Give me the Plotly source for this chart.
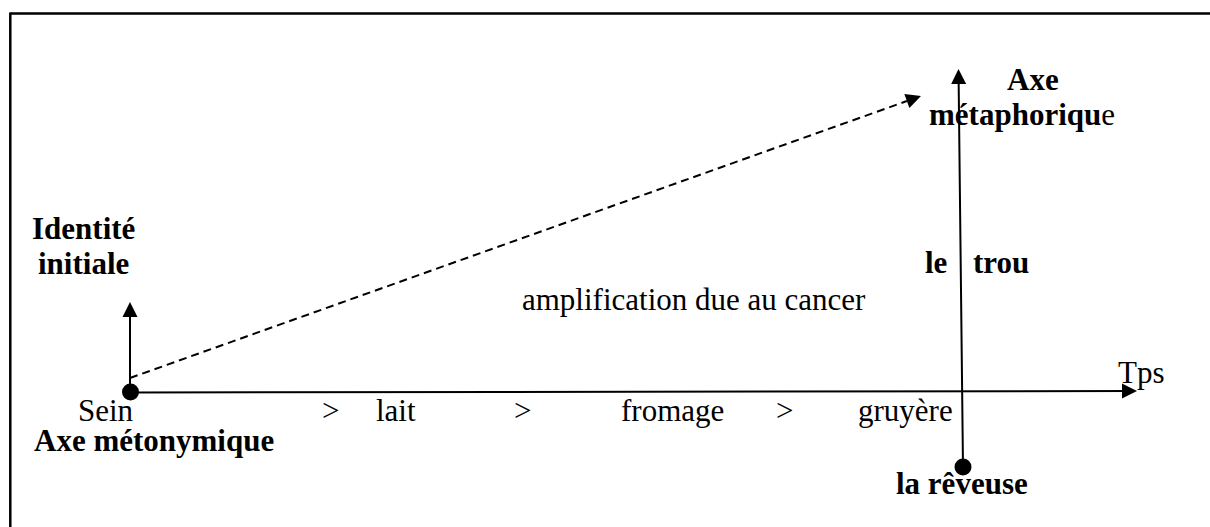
import math
import plotly.graph_objects as go

# ---- diagram data (diagram units: x to the right, y downward) ----
# chain along the metonymic (time) axis
chain_labels = ["Sein", ">", "lait", ">", "fromage", ">", "gruyère"]
chain_x = [106, 330, 396, 522, 672, 784, 905]
chain_y = [421, 421, 421, 421, 421, 421, 421]

# bold labels
bold_labels = ["Identité", "initiale", "Axe métonymique", "le", "trou",
               "Axe", "<b>métaphoriqu</b>e", "la rêveuse"]
bold_x = [83.5, 83, 154, 936, 1001, 1033, 1022, 962]
bold_y = [239, 274, 451, 273, 273, 90, 125, 494]

# regular labels
plain_labels = ["amplification due au cancer", "Tps"]
plain_x = [694, 1141]
plain_y = [310, 383]

# axes / arrows: start and end (tip) points
time_axis_x = [130, 1137]
time_axis_y = [392.5, 391]
identity_x = [130, 130]
identity_y = [392, 302]
metaphor_x = [963, 958.5]
metaphor_y = [467, 69]
amplif_x = [130, 921]
amplif_y = [378, 96]

# endpoints marked by dots
dot_x = [130.5, 963]
dot_y = [392, 467]

# frame
frame_left = 10.3
frame_top = 13.6

W, H = 1210, 527
FONT = "'Liberation Serif', 'Times New Roman', Times, serif"
FS = 31

fig = go.Figure()

# dashed amplification line (ends just under its arrowhead)
dx = amplif_x[1] - amplif_x[0]
dy = amplif_y[1] - amplif_y[0]
L = math.hypot(dx, dy)
ux, uy = dx / L, dy / L
head_len = 15
tail_x = amplif_x[1] - ux * head_len
tail_y = amplif_y[1] - uy * head_len
fig.add_trace(go.Scatter(
    x=[amplif_x[0], tail_x], y=[amplif_y[0], tail_y], mode="lines",
    line=dict(color="black", width=2, dash="8px,5px"),
    hoverinfo="skip", showlegend=False))

arrow_common = dict(xref="x", yref="y", axref="x", ayref="y", text="",
                    showarrow=True, arrowhead=2, arrowsize=1.5,
                    arrowwidth=2, arrowcolor="black", standoff=0,
                    startstandoff=0)

annotations = []
for xs, ys in [(time_axis_x, time_axis_y), (identity_x, identity_y),
               (metaphor_x, metaphor_y)]:
    annotations.append(dict(x=xs[1], y=ys[1], ax=xs[0], ay=ys[0], **arrow_common))
annotations.append(dict(x=amplif_x[1], y=amplif_y[1], ax=tail_x, ay=tail_y,
                        **arrow_common))

# dots
fig.add_trace(go.Scatter(
    x=dot_x, y=dot_y, mode="markers",
    marker=dict(symbol="circle", size=17, color="black"),
    hoverinfo="skip", showlegend=False))

# text: baseline -> box middle offset
off = 0.34 * FS
def add_text(t, x, y):
    annotations.append(dict(x=x, y=y - off, text=t, showarrow=False,
                            xref="x", yref="y", xanchor="center", yanchor="middle",
                            font=dict(family=FONT, size=FS, color="black")))

for t, x, y in zip(chain_labels, chain_x, chain_y):
    add_text(t, x, y)
for t, x, y in zip(plain_labels, plain_x, plain_y):
    add_text(t, x, y)
for t, x, y in zip(bold_labels, bold_x, bold_y):
    add_text(t if t.startswith("<b>") else "<b>" + t + "</b>", x, y)

shapes = [
    dict(type="line", xref="x", yref="y", x0=frame_left, x1=W, y0=frame_top, y1=frame_top,
         line=dict(color="black", width=2.5)),
    dict(type="line", xref="x", yref="y", x0=frame_left, x1=frame_left, y0=frame_top - 1.2, y1=H,
         line=dict(color="black", width=2.5)),
]

fig.update_layout(
    width=W, height=H,
    margin=dict(l=0, r=0, t=0, b=0),
    paper_bgcolor="white", plot_bgcolor="white",
    font=dict(family=FONT),
    xaxis=dict(range=[0, W], visible=False, fixedrange=True),
    yaxis=dict(range=[H, 0], visible=False, fixedrange=True),
    annotations=annotations, shapes=shapes,
    showlegend=False, hovermode=False,
)

fig.write_html(
    "out.html",
    config={"displayModeBar": False, "staticPlot": True},
    post_script="document.body.style.margin='0';document.body.style.overflow='hidden';",
)
